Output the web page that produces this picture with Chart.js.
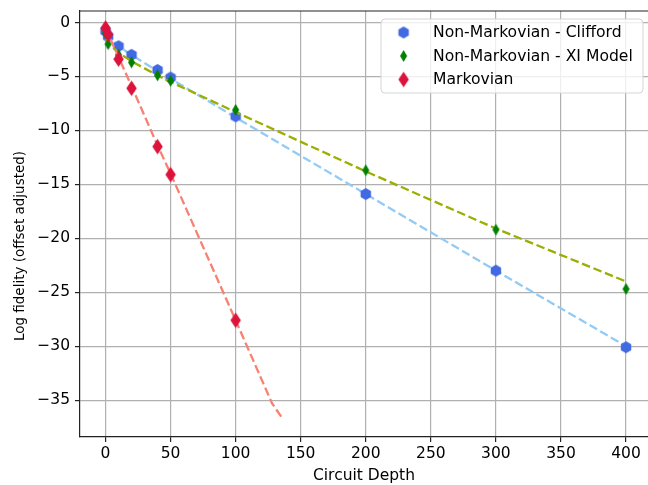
<!DOCTYPE html>
<html>
<head>
<meta charset="utf-8">
<script src="https://cdn.jsdelivr.net/npm/chart.js@4.4.0/dist/chart.umd.min.js"></script>
<style>
  html, body { margin: 0; padding: 0; background: #fff; }
</style>
</head>
<body>
<canvas id="myChart" width="648" height="485"></canvas>
<script>
// data
const cliffordDepth = [0, 2, 10, 20, 40, 50, 100, 200, 300, 400];
const cliffordFid = [-0.8, -1.3, -2.2, -3.0, -4.4, -5.1, -8.7, -15.9, -23.0, -30.1];
const cliffordFitDepth = [0, 10, 20, 40, 50, 100, 200, 300, 400];
const cliffordFit = [-1.0, -2.2, -3.0, -4.5, -5.2, -8.8, -15.9, -23.0, -30.0];

const xiDepth = [0, 2, 10, 20, 40, 50, 100, 200, 300, 400];
const xiFid = [-1.0, -2.0, -3.0, -3.7, -4.9, -5.4, -8.1, -13.7, -19.2, -24.7];
const xiFitDepth = [0, 2, 10, 20, 40, 50, 100, 200, 300, 400];
const xiFit = [-1.5, -1.9, -2.8, -3.6, -4.9, -5.5, -8.3, -13.8, -19.1, -24.0];

const markovDepth = [0, 2, 10, 20, 40, 50, 100];
const markovFid = [-0.5, -1.1, -3.4, -6.1, -11.5, -14.1, -27.6];
const markovFitDepth = [0, 10, 20, 40, 50, 100, 128, 136];
const markovFit = [-0.5, -3.2, -5.9, -11.4, -14.0, -27.6, -35.3, -36.7];

const xTicks = [0, 50, 100, 150, 200, 250, 300, 350, 400];
const yTicks = [-35, -30, -25, -20, -15, -10, -5, 0];

const FONT = '"DejaVu Sans", sans-serif';

function pts(xs, ys) {
    return xs.map((x, i) => ({x: x, y: ys[i]}));
}

// matplotlib-like markers drawn on small canvases
function hexagon(r, color) {
    const s = Math.ceil(2 * r + 2);
    const c = document.createElement('canvas');
    c.width = s; c.height = s;
    const g = c.getContext('2d');
    g.fillStyle = color;
    g.beginPath();
    for (let k = 0; k < 6; k++) {
        const a = -Math.PI / 2 + k * Math.PI / 3;
        g.lineTo(s / 2 + r * Math.cos(a), s / 2 + r * Math.sin(a));
    }
    g.closePath();
    g.fill();
    return c;
}

function diamond(w, h, color) {
    const cw = Math.ceil(w + 2), ch = Math.ceil(h + 2);
    const c = document.createElement('canvas');
    c.width = cw; c.height = ch;
    const g = c.getContext('2d');
    g.fillStyle = color;
    g.beginPath();
    g.moveTo(cw / 2, ch / 2 - h / 2);
    g.lineTo(cw / 2 + w / 2, ch / 2);
    g.lineTo(cw / 2, ch / 2 + h / 2);
    g.lineTo(cw / 2 - w / 2, ch / 2);
    g.closePath();
    g.fill();
    return c;
}

const hexMark = hexagon(6, '#4169e1');
const greenMark = diamond(7, 12, '#008000');
const redMark = diamond(10.5, 15.5, '#dc143c');

const legendItems = [
    {label: 'Non-Markovian - Clifford', mark: hexMark},
    {label: 'Non-Markovian - XI Model', mark: greenMark},
    {label: 'Markovian', mark: redMark}
];

const extras = {
    id: 'extras',
    afterDraw(chart) {
        const ctx = chart.ctx;
        const a = chart.chartArea;
        ctx.save();
        // top spine (right spine falls just outside the picture)
        ctx.strokeStyle = '#222';
        ctx.lineWidth = 1.2;
        ctx.beginPath();
        ctx.moveTo(a.left - 0.6, a.top);
        ctx.lineTo(a.right, a.top);
        ctx.stroke();

        // y axis label
        ctx.fillStyle = '#000';
        ctx.font = '13.5px ' + FONT;
        ctx.textAlign = 'center';
        ctx.textBaseline = 'middle';
        ctx.translate(20, 246);
        ctx.rotate(-Math.PI / 2);
        ctx.fillText('Log fidelity (offset adjusted)', 0, 0);
        ctx.restore();

        // legend box
        ctx.save();
        const bx = 381, by = 19, bw = 262, bh = 74, r = 4;
        ctx.beginPath();
        ctx.moveTo(bx + r, by);
        ctx.arcTo(bx + bw, by, bx + bw, by + bh, r);
        ctx.arcTo(bx + bw, by + bh, bx, by + bh, r);
        ctx.arcTo(bx, by + bh, bx, by, r);
        ctx.arcTo(bx, by, bx + bw, by, r);
        ctx.closePath();
        ctx.fillStyle = 'rgba(255,255,255,0.8)';
        ctx.fill();
        ctx.strokeStyle = '#d5d5d5';
        ctx.lineWidth = 1;
        ctx.stroke();

        ctx.font = '15.6px ' + FONT;
        ctx.fillStyle = '#000';
        ctx.textAlign = 'left';
        ctx.textBaseline = 'middle';
        legendItems.forEach((item, i) => {
            const y = 32.5 + i * 23.5;
            const m = item.mark;
            ctx.drawImage(m, 403.6 - m.width / 2, y - m.height / 2);
            ctx.fillText(item.label, 433, y + 0.5);
        });
        ctx.restore();
    }
};

const ctx = document.getElementById('myChart');
const myChart = new Chart(ctx, {
    type: 'scatter',
    data: {
        datasets: [
            {
                label: 'Clifford fit',
                data: pts(cliffordFitDepth, cliffordFit),
                showLine: true,
                borderColor: '#92cbf5',
                borderWidth: 2.3,
                borderDash: [8.6, 3.7],
                pointRadius: 0,
                order: 6
            },
            {
                label: 'Non-Markovian - Clifford',
                data: pts(cliffordDepth, cliffordFid),
                pointStyle: hexMark,
                pointRadius: 6,
                order: 5
            },
            {
                label: 'XI fit',
                data: pts(xiFitDepth, xiFit),
                showLine: true,
                borderColor: '#9aaf00',
                borderWidth: 2.3,
                borderDash: [8.6, 3.7],
                pointRadius: 0,
                order: 4
            },
            {
                label: 'Non-Markovian - XI Model',
                data: pts(xiDepth, xiFid),
                pointStyle: greenMark,
                pointRadius: 6,
                order: 3
            },
            {
                label: 'Markovian fit',
                data: pts(markovFitDepth, markovFit),
                showLine: true,
                borderColor: '#fa8072',
                borderWidth: 2.3,
                borderDash: [8.6, 3.7],
                pointRadius: 0,
                order: 2
            },
            {
                label: 'Markovian',
                data: pts(markovDepth, markovFid),
                pointStyle: redMark,
                pointRadius: 8,
                order: 1
            }
        ]
    },
    options: {
        responsive: false,
        animation: false,
        events: [],
        layout: {
            autoPadding: false,
            padding: {top: 11, left: 0, right: 0, bottom: 0}
        },
        scales: {
            x: {
                type: 'linear',
                min: -19.6,
                max: 416.9,
                afterBuildTicks: scale => { scale.ticks = xTicks.map(v => ({value: v})); },
                afterFit: scale => {
                    scale.height = 48;
                    scale.paddingLeft = 0;
                    scale.paddingRight = 0;
                },
                grid: {
                    color: '#b0b0b0',
                    lineWidth: 1.2,
                    tickColor: '#222',
                    tickLength: 5
                },
                border: {display: true, color: '#222', width: 1.2},
                ticks: {
                    color: '#000',
                    padding: 3,
                    maxRotation: 0,
                    font: {family: FONT, size: 15.5}
                },
                title: {
                    display: true,
                    text: 'Circuit Depth',
                    color: '#000',
                    padding: {top: 0, bottom: 0},
                    font: {family: FONT, size: 15.5}
                }
            },
            y: {
                type: 'linear',
                min: -38.42,
                max: 1.066,
                afterBuildTicks: scale => { scale.ticks = yTicks.map(v => ({value: v})); },
                afterFit: scale => {
                    scale.width = 80;
                    scale.paddingTop = 0;
                    scale.paddingBottom = 0;
                },
                grid: {
                    color: '#b0b0b0',
                    lineWidth: 1.2,
                    tickColor: '#222',
                    tickLength: 5
                },
                border: {display: true, color: '#222', width: 1.2},
                ticks: {
                    color: '#000',
                    padding: 5,
                    font: {family: FONT, size: 15.5},
                    callback: v => (v < 0 ? '\u2212' + Math.abs(v) : String(v))
                }
            }
        },
        plugins: {
            legend: {display: false},
            tooltip: {enabled: false}
        }
    },
    plugins: [extras]
});
</script>
</body>
</html>
